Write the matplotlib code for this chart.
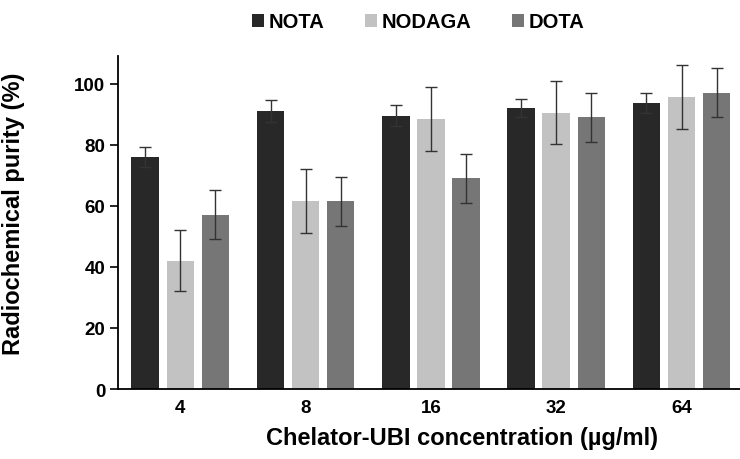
import matplotlib
matplotlib.use("Agg")
from matplotlib import pyplot as plt
import numpy as np

plt.rcParams['font.family'] = ['Liberation Sans', 'DejaVu Sans']

conc = ['4', '8', '16', '32', '64']
nota = [76, 91, 89.5, 92, 93.5]
nota_err = [3.3, 3.5, 3.5, 3, 3.3]
nodaga = [42, 61.5, 88.5, 90.5, 95.5]
nodaga_err = [10, 10.5, 10.5, 10.3, 10.5]
dota = [57, 61.5, 69, 89, 97]
dota_err = [8, 8, 8, 8, 8]

x = np.arange(len(conc))
w = 0.22
off = 0.28

fig = plt.figure(figsize=(7.4, 4.6), dpi=100)
ax = fig.add_axes([0.159, 0.152, 0.845, 0.724])

ekw = dict(ecolor='#333333', elinewidth=1, capsize=4, capthick=1)
ax.bar(x - off, nota, w, yerr=nota_err, color='#282828', label='NOTA', error_kw=ekw)
ax.bar(x, nodaga, w, yerr=nodaga_err, color='#c2c2c2', label='NODAGA', error_kw=ekw)
ax.bar(x + off, dota, w, yerr=dota_err, color='#767676', label='DOTA', error_kw=ekw)

ax.set_xlim(-0.5, 4.49)
ax.set_ylim(0, 109)
ax.set_yticks([0, 20, 40, 60, 80, 100])
ax.set_xticks(x)
ax.set_xticklabels(conc)
ax.tick_params(axis='x', length=0, pad=7)
ax.tick_params(axis='y', length=6, width=1.2, pad=3)
for lab in ax.get_xticklabels() + ax.get_yticklabels():
    lab.set_fontsize(13.5)
    lab.set_fontweight('bold')

for s in ['top', 'right']:
    ax.spines[s].set_visible(False)
ax.spines['left'].set_linewidth(1.3)
ax.spines['bottom'].set_linewidth(1.3)

ax.set_ylabel('Radiochemical purity (%)', fontsize=17, fontweight='bold')
ax.yaxis.set_label_coords(-0.148, 0.53)
ax.set_xlabel('Chelator-UBI concentration (µg/ml)', fontsize=17, fontweight='bold')
ax.xaxis.set_label_coords(0.55, -0.112)

fig.legend(loc='center', bbox_to_anchor=(0.565, 0.95), ncol=3, frameon=False,
           handlelength=0.6, handleheight=0.6, handletextpad=0.25, columnspacing=2.0,
           prop={'size': 14.5, 'weight': 'bold'})

fig.savefig('out.png', dpi=100)
